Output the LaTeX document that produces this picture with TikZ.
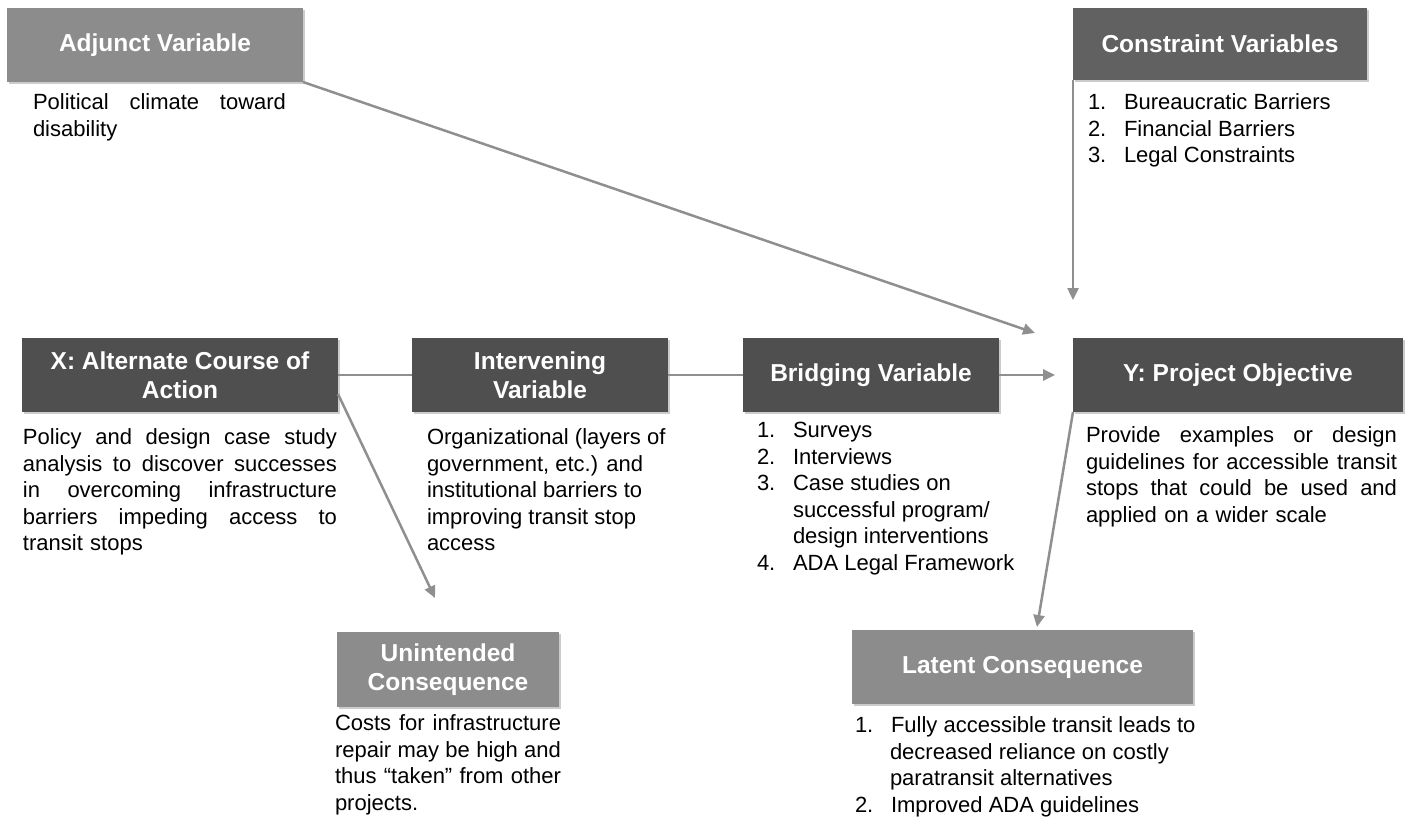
\documentclass[tikz,border=0pt]{standalone}
\usepackage{fontspec}
\setmainfont{Liberation Sans}
\usetikzlibrary{arrows.meta,shadows,calc}
\definecolor{darkbox}{HTML}{4F4F4F}
\definecolor{midbox}{HTML}{616161}
\definecolor{lightbox}{HTML}{8C8C8C}
\definecolor{connclr}{HTML}{8F8F8F}
\newcommand\ttlfnt{\fontsize{24.5}{29.5}\selectfont\bfseries}
\newcommand\txtfnt{\fontsize{22}{26.5}\selectfont}
\newcommand\jline[1]{\leavevmode\hbox to \hsize{\spaceskip=\fontdimen2\font plus 1fil\relax #1}}
\newcommand\itm[1]{\makebox[36pt][l]{#1}}
\tikzset{
  boxbase/.style={draw=none, text=white, font=\ttlfnt, align=center, inner sep=0pt, outer sep=0pt,
    drop shadow={shadow xshift=1.5pt, shadow yshift=-2pt, opacity=0.2, fill=black}},
  darkb/.style={boxbase, fill=darkbox},
  midb/.style={boxbase, fill=midbox},
  lightb/.style={boxbase, fill=lightbox},
  bodytxt/.style={anchor=north west, inner sep=0pt, outer sep=0pt, font=\txtfnt, align=left, text=black},
  conn/.style={draw=connclr, line width=2.5pt},
  arr/.style={conn, -{Triangle[length=12pt,width=11pt]}}
}
\begin{document}
\begin{tikzpicture}[x=1pt,y=-1pt]
\useasboundingbox (0,0) rectangle (1416,819);
% boxes
\node[lightb, minimum width=296pt, minimum height=74pt] (adj) at (155,45) {Adjunct Variable};
\node[midb, minimum width=294pt, minimum height=72pt] (con) at (1220,44) {Constraint Variables};
\node[darkb, minimum width=316pt, minimum height=74pt] (x) at (180,375) {X: Alternate Course of\\Action};
\node[darkb, minimum width=256pt, minimum height=74pt] (int) at (540,375) {Intervening\\Variable};
\node[darkb, minimum width=256pt, minimum height=74pt] (brd) at (871,375) {Bridging Variable};
\node[darkb, minimum width=330pt, minimum height=74pt] (y) at (1238,375) {Y: Project Objective};
\node[lightb, minimum width=222pt, minimum height=75pt] (unint) at (448,669.5) {Unintended\\Consequence};
\node[lightb, minimum width=341pt, minimum height=74pt] (lat) at (1022.5,667) {Latent Consequence};
% body texts
\node[bodytxt, text width=253pt] (adjt) at (33,91.3) {\strut\jline{Political climate toward}\\disability};
\node[bodytxt] (cont) at (1088,91.3) {\strut\itm{1.}Bureaucratic Barriers\\\itm{2.}Financial Barriers\\\itm{3.}Legal Constraints};
\node[bodytxt, text width=314pt] (xt) at (23,426.3) {\strut\jline{Policy and design case study}\\\jline{analysis to discover successes}\\\jline{in overcoming infrastructure}\\\jline{barriers impeding access to}\\transit stops};
\node[bodytxt] (intt) at (427,426.3) {\strut Organizational (layers of\\government, etc.) and\\institutional barriers to\\improving transit stop\\access};
\node[bodytxt] (brdt) at (757,419.3) {\strut\itm{1.}Surveys\\\itm{2.}Interviews\\\itm{3.}Case studies on\\\hspace*{36pt}successful program/\\\hspace*{36pt}design interventions\\\itm{4.}ADA Legal Framework};
\node[bodytxt, text width=311pt] (yt) at (1086,424.3) {\strut\jline{Provide examples or design}\\\jline{guidelines for accessible transit}\\\jline{stops that could be used and}\\applied on a wider scale};
\node[bodytxt, text width=226pt] (unintt) at (335,712.3) {\strut\jline{Costs for infrastructure}\\\jline{repair may be high and}\\\jline{thus “taken” from other}\\projects.};
\node[bodytxt] (latt) at (855,714.3) {\strut\itm{1.}Fully accessible transit leads to\\\hspace*{35pt}decreased reliance on costly\\\hspace*{35pt}paratransit alternatives\\\itm{2.}Improved ADA guidelines};
% connector ends
\coordinate (adjend) at (1035,333);
\coordinate (conend) at (1073,300);
\coordinate (brdend) at (1055,375);
\coordinate (xend) at (435,598);
\coordinate (yend) at (1037,627);
% connectors
\draw[arr] (adj.south east) -- (adjend);
\draw[arr] (con.south west) -- (conend);
\draw[conn] (x.east) -- (int.west);
\draw[conn] (int.east) -- (brd.west);
\draw[arr] (brd.east) -- (brdend);
\draw[arr] ($(x.south east)+(0,-18)$) -- (xend);
\draw[arr] (y.south west) -- (yend);
\end{tikzpicture}
\end{document}
